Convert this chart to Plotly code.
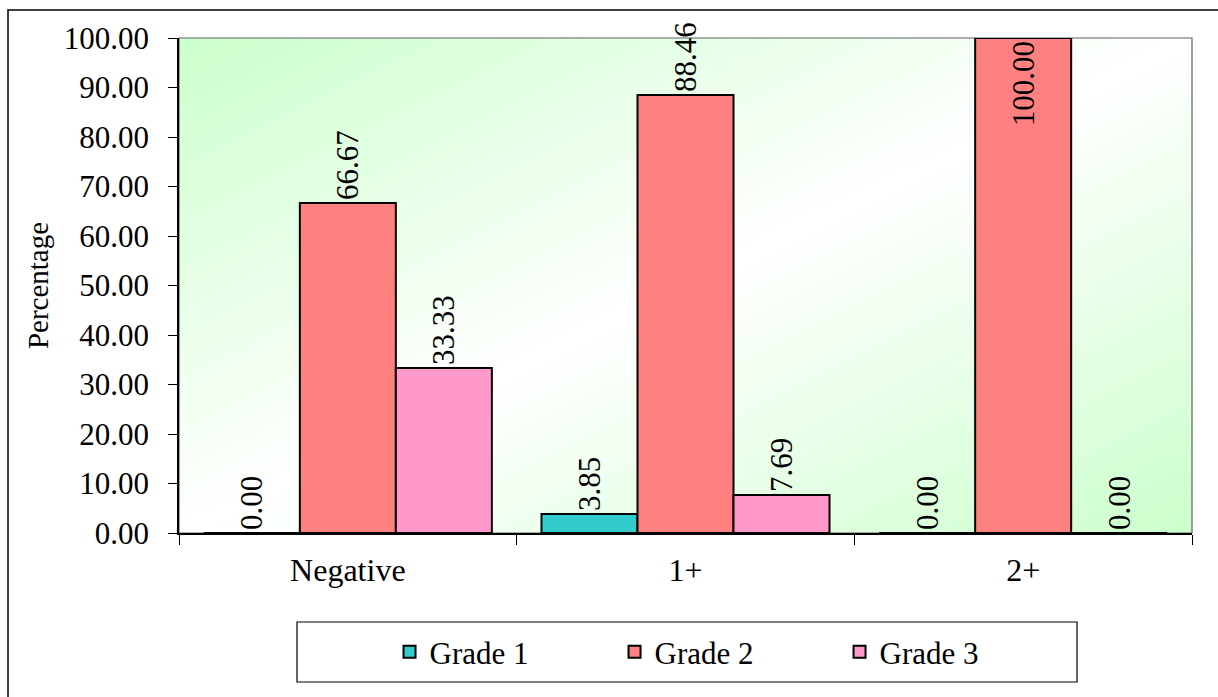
import base64
import plotly.graph_objects as go

# Values (percent) per receptor category and tumour grade
categories = ["Negative", "1+", "2+"]
grade1 = [0.00, 3.85, 0.00]
grade2 = [66.67, 88.46, 100.00]
grade3 = [33.33, 7.69, 0.00]
series_names = ["Grade 1", "Grade 2", "Grade 3"]
y_ticks = [0, 10, 20, 30, 40, 50, 60, 70, 80, 90, 100]

colors = ["#33CCCC", "#FF8080", "#FF99CC"]
FONT = "Liberation Serif, Times New Roman, serif"

# Diagonal green-white-green fill for the plotting area
svg = (
    '<svg xmlns="http://www.w3.org/2000/svg" width="100" height="100" '
    'viewBox="0 0 100 100" preserveAspectRatio="none">'
    '<defs><linearGradient id="g" x1="0" y1="0" x2="1" y2="1">'
    '<stop offset="0" stop-color="#CCFFCC"/>'
    '<stop offset="0.5" stop-color="#FFFFFF"/>'
    '<stop offset="1" stop-color="#CCFFCC"/>'
    '</linearGradient></defs>'
    '<rect width="100" height="100" fill="url(#g)"/></svg>'
)
bg_src = "data:image/svg+xml;base64," + base64.b64encode(svg.encode()).decode()

label_font = dict(family=FONT, size=31, color="black")

fig = go.Figure()
for name, vals, col in zip(series_names, [grade1, grade2, grade3], colors):
    # labels sit above the bar; a full-height bar keeps its label inside
    positions = ["inside" if v >= 100 else "outside" for v in vals]
    fig.add_trace(go.Bar(
        x=categories,
        y=vals,
        name=name,
        marker=dict(color=col, line=dict(color="black", width=2)),
        text=[f"{v:.2f}" for v in vals],
        textposition=positions,
        insidetextanchor="end",
        textangle=-90,
        textfont=label_font,
        insidetextfont=label_font,
        outsidetextfont=label_font,
        constraintext="none",
        cliponaxis=False,
    ))

fig.update_layout(
    width=1218,
    height=697,
    margin=dict(l=179, r=26, t=38, b=164),
    paper_bgcolor="white",
    plot_bgcolor="white",
    barmode="group",
    bargap=0.147,
    bargroupgap=0,
    font=dict(family=FONT, size=29, color="black"),
    showlegend=True,
    legend=dict(
        orientation="h",
        x=0.541,
        xanchor="center",
        y=-0.2404,
        yanchor="middle",
        bgcolor="rgba(0,0,0,0)",
        borderwidth=0,
        font=dict(family=FONT, size=31, color="black"),
        entrywidth=180,
        traceorder="normal",
    ),
    images=[dict(
        source=bg_src,
        xref="paper", yref="paper",
        x=0, y=1, sizex=1, sizey=1,
        xanchor="left", yanchor="top",
        sizing="stretch",
        layer="below",
    )],
    shapes=[
        # plotting-area frame
        dict(type="rect", xref="paper", yref="paper", x0=0, x1=1, y0=0, y1=1,
             line=dict(color="#606060", width=1.2), layer="below"),
        # legend box
        dict(type="rect", xref="paper", yref="paper",
             x0=0.1165, x1=0.8865, y0=-0.301, y1=-0.1798,
             line=dict(color="black", width=1.2), fillcolor="rgba(0,0,0,0)"),
        # chart-area frame
        dict(type="rect", xref="paper", yref="paper",
             x0=-0.1688, x1=1.04, y0=-0.35, y1=1.0566,
             line=dict(color="black", width=1.5), fillcolor="rgba(0,0,0,0)"),
    ],
)

fig.update_xaxes(
    type="category",
    showline=True,
    linecolor="black",
    linewidth=1.5,
    ticks="outside",
    tickson="boundaries",
    ticklen=10,
    tickwidth=1,
    tickcolor="black",
    showgrid=False,
    tickfont=dict(family=FONT, size=32, color="black"),
    ticklabelstandoff=8,
)
fig.update_yaxes(
    range=[0, 100],
    tickvals=y_ticks,
    tickformat=".2f",
    showline=True,
    linecolor="black",
    linewidth=1.5,
    ticks="outside",
    ticklen=9,
    tickwidth=1,
    tickcolor="black",
    showgrid=False,
    zeroline=False,
    tickfont=dict(family=FONT, size=31, color="black"),
    ticklabelstandoff=13,
    title=dict(text="Percentage", font=dict(family=FONT, size=29, color="black"), standoff=7),
)

fig.write_html("out.html")
